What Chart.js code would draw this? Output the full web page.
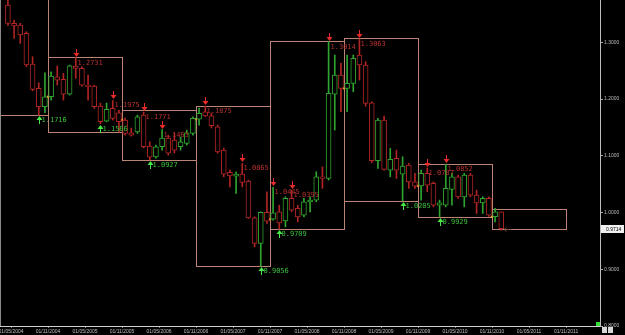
<!DOCTYPE html>
<html lang="en">
<head>
<meta charset="UTF-8">
<title>Monthly candles with yearly ranges</title>
<script src="https://cdn.jsdelivr.net/npm/chart.js"></script>
<style>
  * { margin: 0; padding: 0; box-sizing: border-box; }
  html, body { background: #000; overflow: hidden; }
  .wrap { width: 625px; height: 335px; position: relative; }
</style>
</head>
<body>
<div class="wrap"><canvas id="chart"></canvas></div>
<script>
// monthly candles, month index counts from Jan 2004 = 0, first candle is Apr 2004
const firstMonth = 3;
const opens = [
  1.3658, 1.3335, 1.3305, 1.3159, 1.2617, 1.2189, 1.1864, 1.2041, 1.2393, 1.2347,
  1.2088, 1.2582, 1.2541, 1.2247, 1.2229, 1.1876, 1.1612, 1.1836, 1.1758, 1.1630,
  1.1406, 1.1423, 1.1718, 1.1171, 1.0982, 1.1159, 1.1312, 1.1277, 1.1159, 1.1219,
  1.1395, 1.1647, 1.1776, 1.1705, 1.1511, 1.1100, 1.0707, 1.0642, 1.0677, 1.0554,
  0.9906, 0.9455, 1.0002, 0.9884, 1.0012, 0.9854, 1.0249, 1.0072, 0.9954, 1.0189,
  1.0219, 1.0630, 1.0601, 1.2088, 1.2423, 1.2189, 1.2277, 1.2776, 1.2600, 1.1935,
  1.0912, 1.1630, 1.0748, 1.0954, 1.0677, 1.0836, 1.0541, 1.0470, 1.0690, 1.0513,
  1.0130, 1.0130, 1.0407, 1.0630, 1.0277, 1.0660, 1.0307, 1.0171, 1.0249, 0.9925,
  1.0012
];
const highs = [
  1.3800, 1.3393, 1.3335, 1.3187, 1.2746, 1.2287, 1.2464, 1.2481, 1.2582, 1.2453,
  1.2600, 1.2731, 1.2570, 1.2423, 1.2247, 1.1929, 1.1929, 1.1975, 1.1806, 1.1665,
  1.1489, 1.1718, 1.1771, 1.1247, 1.1189, 1.1463, 1.1365, 1.1400, 1.1330, 1.1453,
  1.1688, 1.1841, 1.1875, 1.1753, 1.1541, 1.1136, 1.0748, 1.0718, 1.0865, 1.0571,
  0.9924, 1.0012, 1.0365, 1.0445, 1.0130, 1.0277, 1.0395, 1.0130, 1.0249, 1.0277,
  1.0718, 1.0806, 1.3014, 1.2776, 1.2630, 1.2776, 1.2776, 1.3063, 1.2658, 1.1952,
  1.1660, 1.1700, 1.1130, 1.1100, 1.0982, 1.0866, 1.0690, 1.0748, 1.0787, 1.0541,
  1.0219, 1.0852, 1.0690, 1.0660, 1.0690, 1.0690, 1.0395, 1.0277, 1.0277, 1.0072,
  1.0012
];
const lows = [
  1.3300, 1.3071, 1.2982, 1.2570, 1.2146, 1.1716, 1.1760, 1.1982, 1.2247, 1.1982,
  1.2070, 1.2365, 1.2229, 1.1982, 1.1836, 1.1566, 1.1600, 1.1630, 1.1420, 1.1365,
  1.1347, 1.1395, 1.1140, 1.0927, 1.0959, 1.1100, 1.1012, 1.1048, 1.1100, 1.1189,
  1.1365, 1.1541, 1.1688, 1.1489, 1.1048, 1.0630, 1.0453, 1.0337, 1.0453, 0.9896,
  0.9395, 0.9056, 0.9808, 0.9866, 0.9709, 0.9748, 1.0012, 0.9836, 0.9924, 1.0012,
  1.0189, 1.0425, 1.0571, 1.1453, 1.1776, 1.1776, 1.2129, 1.2335, 1.1876, 1.0877,
  1.0778, 1.0748, 1.0630, 1.0601, 1.0205, 1.0425, 1.0425, 1.0219, 1.0365, 1.0100,
  0.9929, 1.0100, 1.0130, 1.0249, 1.0100, 1.0277, 0.9984, 0.9984, 0.9930, 0.9836,
  0.9690
];
const closes = [
  1.3335, 1.3287, 1.3129, 1.2600, 1.2171, 1.1864, 1.2041, 1.2406, 1.2335, 1.2088,
  1.2587, 1.2541, 1.2247, 1.2217, 1.1864, 1.1600, 1.1818, 1.1660, 1.1600, 1.1395,
  1.1365, 1.1688, 1.1159, 1.0977, 1.1159, 1.1312, 1.1048, 1.1100, 1.1247, 1.1406,
  1.1660, 1.1748, 1.1705, 1.1529, 1.1070, 1.0677, 1.0647, 1.0677, 1.0531, 0.9906,
  0.9455, 1.0002, 0.9848, 0.9995, 0.9818, 1.0249, 1.0042, 0.9924, 1.0189, 1.0219,
  1.0630, 1.0601, 1.2101, 1.2423, 1.2189, 1.2277, 1.2718, 1.2600, 1.1924, 1.0912,
  1.1630, 1.0760, 1.0936, 1.0748, 1.0818, 1.0541, 1.0466, 1.0690, 1.0483, 1.0130,
  1.0171, 1.0425, 1.0630, 1.0277, 1.0660, 1.0307, 1.0171, 1.0249, 0.9954, 1.0012,
  0.9714
];

// yearly range boxes, Nov to Oct
const boxStarts = [-2, 10, 22, 34, 46, 58, 70, 82];
const boxHighs = [1.4500, 1.2741, 1.1806, 1.1876, 1.3023, 1.3076, 1.0854, 1.0060];
const boxLows  = [1.1716, 1.1418, 1.0924, 0.9056, 0.9707, 1.0201, 0.9919, 0.9707];

// swing highs (red) and swing lows (green) with their printed labels
const peakMonths = [14, 20, 25, 28, 35, 41, 46, 49, 55, 60, 71, 74];
const peakLabels = ['1.2731', '1.1975', '1.1771', '1.1463', '1.1875', '1.0865',
                    '1.0445', '1.0395', '1.3014', '1.3063', '1.0787', '1.0852'];
const troughMonths = [8, 18, 26, 44, 47, 67, 73];
const troughLabels = ['1.1716', '1.1566', '1.0927', '0.9056', '0.9709', '1.0205', '0.9929'];

const xTickMonths = [4, 10, 16, 22, 28, 34, 40, 46, 52, 58, 64, 70, 76, 82, 88, 94];
const xTickLabels = ['01/05/2004', '01/11/2004', '01/05/2005', '01/11/2005', '01/05/2006',
  '01/11/2006', '01/05/2007', '01/11/2007', '01/05/2008', '01/11/2008', '01/05/2009',
  '01/11/2009', '01/05/2010', '01/11/2010', '01/05/2011', '01/11/2011'];
const yTicks = [0.8, 0.9, 1.0, 1.1, 1.2, 1.3];

const UP = '#2fa52f', DOWN = '#b02424';
const candleColors = opens.map((o, i) => closes[i] >= o ? UP : DOWN);
const centre = i => firstMonth + i + 0.5;

function arrow(ctx, px, tip, dir, color) {
  // dir = 1 points down (tip below), -1 points up
  ctx.strokeStyle = color;
  ctx.fillStyle = color;
  ctx.beginPath();
  ctx.moveTo(px, tip - dir * 8);
  ctx.lineTo(px, tip - dir * 2);
  ctx.stroke();
  ctx.beginPath();
  ctx.moveTo(px - 3, tip - dir * 4);
  ctx.lineTo(px + 3, tip - dir * 4);
  ctx.lineTo(px, tip);
  ctx.closePath();
  ctx.fill();
}

const overlay = {
  id: 'overlay',
  beforeDatasetsDraw(chart) {
    const {ctx, chartArea: a, scales: {x, y}} = chart;
    ctx.save();
    ctx.beginPath();
    ctx.rect(a.left, a.top, a.right - a.left, a.bottom - a.top);
    ctx.clip();
    ctx.strokeStyle = '#bb8474';
    ctx.lineWidth = 1;
    boxStarts.forEach((m, k) => {
      const x1 = Math.round(x.getPixelForValue(m)) + 0.5;
      const x2 = Math.round(x.getPixelForValue(m + 12)) + 0.5;
      const y1 = Math.round(y.getPixelForValue(boxHighs[k])) + 0.5;
      const y2 = Math.round(y.getPixelForValue(boxLows[k])) + 0.5;
      ctx.strokeRect(x1, y1, x2 - x1, y2 - y1);
    });
    ctx.restore();
  },
  afterDatasetsDraw(chart) {
    const {ctx, chartArea: a, scales: {x, y}} = chart;
    ctx.save();
    ctx.font = '7px "DejaVu Sans Mono"';
    ctx.textBaseline = 'top';
    ctx.lineWidth = 1;

    peakMonths.forEach((m, k) => {
      const i = m - firstMonth;
      const px = Math.round(x.getPixelForValue(centre(i))) + 0.5;
      const py = Math.round(y.getPixelForValue(highs[i]));
      arrow(ctx, px, py - 1, 1, '#e82c2c');
      ctx.fillStyle = '#b83232';
      ctx.fillText(peakLabels[k], px + 1, py + 2);
    });

    troughMonths.forEach((m, k) => {
      const i = m - firstMonth;
      const px = Math.round(x.getPixelForValue(centre(i))) + 0.5;
      const py = Math.round(y.getPixelForValue(lows[i]));
      arrow(ctx, px, py + 1, -1, '#48e848');
      ctx.fillStyle = '#3cc03c';
      ctx.fillText(troughLabels[k], px + 2, py + 1.5);
    });

    // left frame
    ctx.fillStyle = '#8a8a8a';
    ctx.fillRect(0, a.top, 1, a.bottom - a.top);

    // last price marker and tag
    const last = closes.length - 1;
    const lx = x.getPixelForValue(centre(last));
    const ly = Math.round(y.getPixelForValue(closes[last])) + 0.5;
    ctx.strokeStyle = '#8a5a4a';
    ctx.beginPath();
    ctx.moveTo(lx + 3, ly); ctx.lineTo(lx + 10, ly);
    ctx.moveTo(lx + 5, ly - 2); ctx.lineTo(lx + 3, ly); ctx.lineTo(lx + 5, ly + 2);
    ctx.stroke();
    ctx.fillStyle = '#f0f0f0';
    ctx.fillRect(a.right + 1, ly - 4.5, 23, 8);
    ctx.fillStyle = '#000';
    ctx.font = '5px "Liberation Sans"';
    ctx.textBaseline = 'middle';
    ctx.fillText(closes[last].toFixed(4), a.right + 6, ly);

    // corner widgets
    ctx.fillStyle = '#33dd33';
    ctx.fillRect(a.right - 4, a.bottom - 4, 4, 4);
    ctx.fillStyle = '#d8d8d8';
    ctx.fillRect(a.right + 2, a.bottom + 1, 5, 6);
    ctx.fillRect(a.right + 8, a.bottom + 1, 5, 6);
    ctx.restore();
  }
};

new Chart(document.getElementById('chart'), {
  type: 'bar',
  data: {
    datasets: [
      {
        label: 'body',
        data: opens.map((o, i) => ({ x: centre(i), y: [o, closes[i]] })),
        backgroundColor: '#000',
        borderColor: candleColors,
        borderWidth: 1,
        borderSkipped: false,
        barThickness: 5,
        grouped: false
      },
      {
        label: 'wick',
        data: lows.map((l, i) => ({ x: centre(i), y: [l, highs[i]] })),
        backgroundColor: candleColors,
        barThickness: 1,
        grouped: false
      },
      {
        type: 'scatter',
        label: 'year open',
        data: boxStarts.slice(1).map(m => ({ x: m, y: opens[m - firstMonth] })),
        pointRadius: 1.3,
        pointHoverRadius: 1.3,
        pointBackgroundColor: '#ff9d3a',
        pointBorderWidth: 0
      }
    ]
  },
  options: {
    responsive: true,
    maintainAspectRatio: false,
    animation: false,
    layout: { padding: 0, autoPadding: false },
    plugins: { legend: { display: false }, tooltip: { enabled: false } },
    scales: {
      x: {
        type: 'linear',
        offset: false,
        min: 2.216,
        max: 99.51,
        afterBuildTicks: s => { s.ticks = xTickMonths.map(v => ({ value: v })); },
        afterFit: s => { s.height = 9; s.paddingLeft = 0; s.paddingRight = 0; },
        ticks: {
          color: '#bdbdbd',
          font: { size: 5, family: 'Liberation Sans' },
          padding: 1,
          maxRotation: 0,
          autoSkip: false,
          callback: (v, i) => xTickLabels[i]
        },
        grid: { drawOnChartArea: false, offset: false, color: '#777', tickLength: 2 },
        border: { color: '#cfcfcf' }
      },
      y: {
        type: 'linear',
        position: 'right',
        min: 0.8,
        max: 1.3746,
        afterBuildTicks: s => { s.ticks = yTicks.map(v => ({ value: v })); },
        afterFit: s => { s.width = 25; s.paddingTop = 0; s.paddingBottom = 0; },
        ticks: {
          color: '#bdbdbd',
          font: { size: 5, family: 'Liberation Sans' },
          padding: 1,
          callback: v => v.toFixed(4)
        },
        grid: { drawOnChartArea: false, color: '#aaa', tickLength: 3 },
        border: { color: '#bdbdbd' }
      }
    }
  },
  plugins: [overlay]
});
</script>
</body>
</html>
